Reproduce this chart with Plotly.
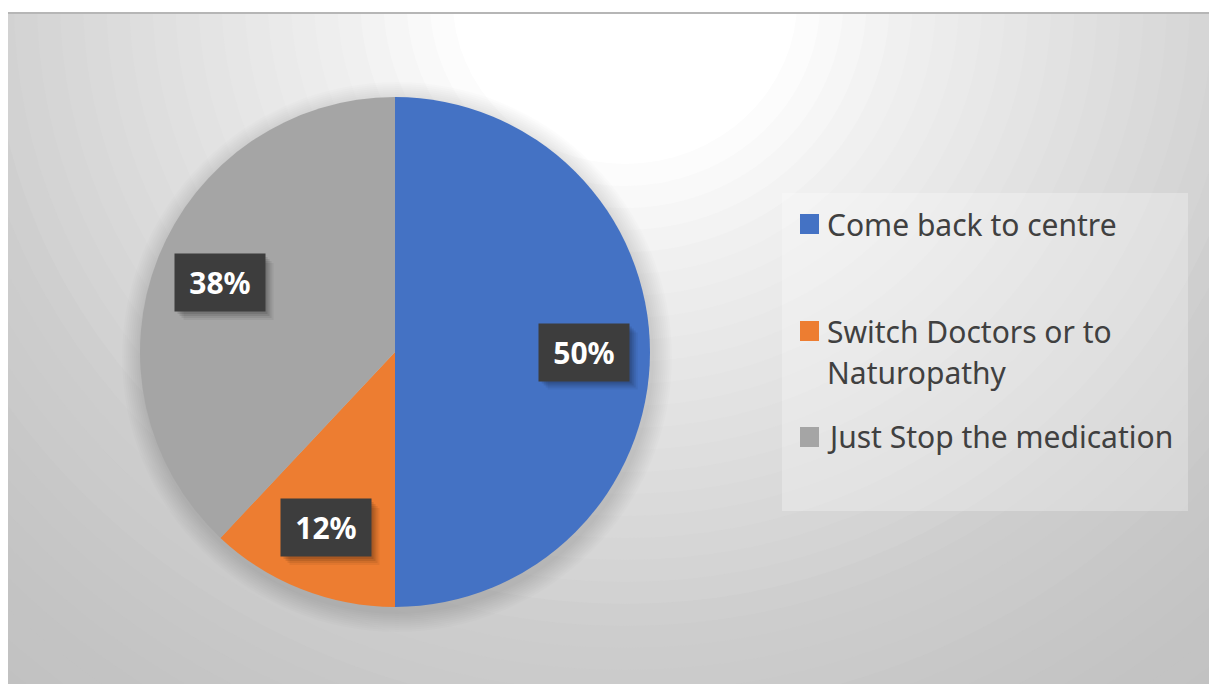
import textwrap
import numpy as np
import plotly.graph_objects as go

# ---- data ----
categories = ["Come back to centre", "Switch Doctors or to Naturopathy", "Just Stop the medication"]
shares = [50, 12, 38]
slice_colors = ["#4472C4", "#ED7D31", "#A5A5A5"]

# ---- canvas geometry (pixels) ----
W, H = 1209, 684
PIE_CX, PIE_CY, PIE_R = 395, 352, 255
LABEL_R = 0.74 * PIE_R
BOX_W, BOX_H = 90, 57


def px(x):
    return x / W


def py(y):
    return 1 - y / H


fig = go.Figure(
    go.Pie(
        labels=categories,
        values=shares,
        sort=False,
        direction="clockwise",
        rotation=0,
        marker=dict(colors=slice_colors, line=dict(width=0)),
        textinfo="none",
        showlegend=False,
        domain=dict(
            x=[px(PIE_CX - PIE_R), px(PIE_CX + PIE_R)],
            y=[py(PIE_CY + PIE_R), py(PIE_CY - PIE_R)],
        ),
    )
)

shapes = []

# radial backdrop: bright at top centre, fading to grey toward the corners
GC_X, GC_Y = 625, 0
stop_d = [0, 165, 270, 400, 550, 650, 800, 1000]
stop_v = [255, 255, 240, 229, 215, 205, 197, 190]
for r in range(1000, 0, -22):
    v = int(round(np.interp(r, stop_d, stop_v)))
    shapes.append(dict(
        type="circle", xref="paper", yref="paper",
        xsizemode="pixel", ysizemode="pixel",
        xanchor=px(GC_X), yanchor=py(GC_Y),
        x0=-1.05 * r, x1=1.05 * r, y0=-r, y1=r,
        fillcolor=f"rgb({v},{v},{v})", line=dict(width=0), layer="below",
    ))

# soft shadow behind the pie
for k in range(2, 22, 2):
    rr = PIE_R + k
    shapes.append(dict(
        type="circle", xref="paper", yref="paper",
        xsizemode="pixel", ysizemode="pixel",
        xanchor=px(PIE_CX + 2), yanchor=py(PIE_CY + 5),
        x0=-rr, x1=rr, y0=-rr, y1=rr,
        fillcolor="rgba(0,0,0,0.011)", line=dict(width=0), layer="below",
    ))

# white page margin around the chart area and its top edge
shapes.append(dict(type="rect", xref="paper", yref="paper", x0=0, x1=px(8), y0=0, y1=1,
                   fillcolor="white", line=dict(width=0), layer="below"))
shapes.append(dict(type="rect", xref="paper", yref="paper", x0=0, x1=1, y0=py(12), y1=1,
                   fillcolor="white", line=dict(width=0), layer="below"))
shapes.append(dict(type="line", xref="paper", yref="paper", x0=px(8), x1=1, y0=py(13), y1=py(13),
                   line=dict(color="#b6b6b6", width=2), layer="below"))

# legend panel
LEG_X0, LEG_Y0, LEG_X1, LEG_Y1 = 782, 193, 1188, 511
shapes.append(dict(type="rect", xref="paper", yref="paper",
                   x0=px(LEG_X0), x1=px(LEG_X1), y0=py(LEG_Y1), y1=py(LEG_Y0),
                   fillcolor="rgba(255,255,255,0.28)", line=dict(width=0), layer="below"))

annotations = []

# percentage labels on dark boxes with a soft drop shadow
cum = np.concatenate([[0], np.cumsum(shares)]) / sum(shares)
for i, v in enumerate(shares):
    mid = (cum[i] + cum[i + 1]) / 2 * 2 * np.pi
    lx = PIE_CX + LABEL_R * np.sin(mid)
    ly = PIE_CY - LABEL_R * np.cos(mid)
    for k, a in [(3, 0.10), (5, 0.09), (7, 0.07), (9, 0.05)]:
        shapes.append(dict(
            type="rect", xref="paper", yref="paper",
            xsizemode="pixel", ysizemode="pixel",
            xanchor=px(lx), yanchor=py(ly),
            x0=-BOX_W / 2 + k, x1=BOX_W / 2 + k,
            y0=-BOX_H / 2 - k, y1=BOX_H / 2 - k,
            fillcolor=f"rgba(0,0,0,{a})", line=dict(width=0), layer="above",
        ))
    annotations.append(dict(x=px(lx), y=py(ly), xref="paper", yref="paper", text=f"{v}%",
                            showarrow=False, width=BOX_W - 14, height=BOX_H - 14, borderpad=7,
                            xanchor="center", yanchor="middle", bgcolor="#3d3d3d",
                            font=dict(color="white", size=30, family="Noto Sans", weight="bold")))

# legend entries
LEG_ROWS = [224, 331, 437]
LINE_GAP = 42
for name, col, yc in zip(categories, slice_colors, LEG_ROWS):
    shapes.append(dict(type="rect", xref="paper", yref="paper",
                       x0=px(800), x1=px(819), y0=py(yc + 10), y1=py(yc - 10),
                       fillcolor=col, line=dict(width=0)))
    for j, line in enumerate(textwrap.wrap(name, 25)):
        annotations.append(dict(x=px(826), y=py(yc + j * LINE_GAP), xref="paper", yref="paper",
                                text=line, showarrow=False, xanchor="left", yanchor="middle",
                                borderpad=0,
                                font=dict(color="#404040", size=30, family="Noto Sans")))

fig.update_layout(
    width=W, height=H,
    margin=dict(l=0, r=0, t=0, b=0),
    paper_bgcolor="white",
    plot_bgcolor="white",
    shapes=shapes,
    annotations=annotations,
    showlegend=False,
)

fig.write_html("out.html")
